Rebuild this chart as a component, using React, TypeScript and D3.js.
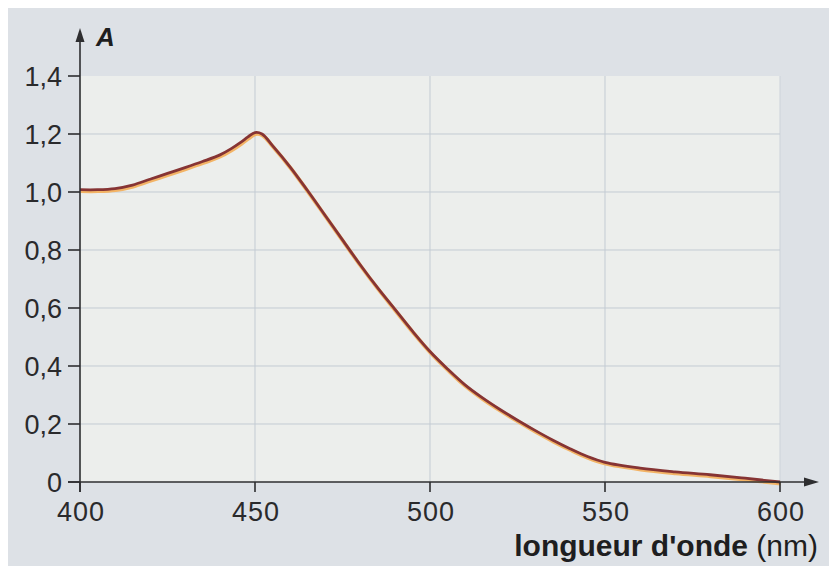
import React from "react";
import * as d3 from "d3";

const wavelengths = [400, 405, 410, 415, 420, 425, 430, 435, 440, 443, 446, 448, 450, 452, 455, 460, 465, 470, 475, 480, 485, 490, 495, 500, 505, 510, 515, 520, 525, 530, 535, 540, 545, 550, 560, 570, 580, 590, 600];
const absorbance = [1.008, 1.008, 1.012, 1.024, 1.044, 1.064, 1.084, 1.105, 1.128, 1.148, 1.172, 1.19, 1.205, 1.2, 1.16, 1.087, 1.005, 0.92, 0.835, 0.75, 0.67, 0.595, 0.52, 0.45, 0.39, 0.335, 0.29, 0.25, 0.213, 0.178, 0.145, 0.115, 0.088, 0.068, 0.048, 0.035, 0.025, 0.013, 0.0];
const xTicks = [400, 450, 500, 550, 600];
const yTicks = [0, 0.2, 0.4, 0.6, 0.8, 1.0, 1.2, 1.4];
const yTickLabels = ["0", "0,2", "0,4", "0,6", "0,8", "1,0", "1,2", "1,4"];
const xGrid = [450, 500, 550];
const yGrid = [0.2, 0.4, 0.6, 0.8, 1.0, 1.2];

export default function App() {
  const x = d3.scaleLinear().domain([400, 600]).range([80, 780]);
  const y = d3.scaleLinear().domain([0, 1.4]).range([482, 76]);
  const pts: [number, number][] = wavelengths.map((w, i) => [w, absorbance[i]]);
  const line = d3
    .line<[number, number]>()
    .x((d) => x(d[0]))
    .y((d) => y(d[1]))
    .curve(d3.curveCatmullRom.alpha(0.5));
  const path = line(pts) || "";
  const font = "'Liberation Sans', Arial, sans-serif";
  const axisColor = "#2e2e30";
  return (
    <svg width={829} height={558} style={{ display: "block" }}>
      <g transform="translate(-8,-8)">
        <rect x={8} y={8} width={829} height={558} fill="#dde1e6" />
        <rect x={x(400)} y={y(1.4)} width={x(600) - x(400)} height={y(0) - y(1.4)} fill="#eceeec" />
        {xGrid.map((v) => (
          <line key={"gx" + v} x1={x(v)} x2={x(v)} y1={y(1.4)} y2={y(0)} stroke="#c3cbd3" strokeWidth={1} />
        ))}
        <line x1={x(600)} x2={x(600)} y1={y(1.4)} y2={y(0)} stroke="#cdd3da" strokeWidth={1} />
        {yGrid.map((v) => (
          <line key={"gy" + v} x1={x(400)} x2={x(600)} y1={y(v)} y2={y(v)} stroke="#c3cbd3" strokeWidth={1} />
        ))}
        {/* curve */}
        <path d={path} fill="none" stroke="#f3b466" strokeWidth={3.8} transform="translate(0.7,1.5)" strokeLinejoin="round" />
        <path d={path} fill="none" stroke="#863434" strokeWidth={2.8} strokeLinejoin="round" />
        {/* axes */}
        <line x1={x(400)} x2={x(400)} y1={y(0) + 10} y2={40} stroke={axisColor} strokeWidth={1.6} />
        <path d={`M ${x(400)} 28 L ${x(400) - 4.5} 42 L ${x(400) + 4.5} 42 Z`} fill={axisColor} />
        <line x1={68} x2={806} y1={y(0)} y2={y(0)} stroke={axisColor} strokeWidth={1.6} />
        <path d={`M 819 ${y(0)} L 804 ${y(0) - 4.5} L 804 ${y(0) + 4.5} Z`} fill={axisColor} />
        {yTicks.map((v, i) => (
          <g key={"yt" + v}>
            <line x1={68} x2={x(400)} y1={y(v)} y2={y(v)} stroke={axisColor} strokeWidth={1.6} />
            <text x={62} y={y(v) + 10} textAnchor="end" fontFamily={font} fontSize={27} fill="#2a2a2c">
              {yTickLabels[i]}
            </text>
          </g>
        ))}
        {xTicks.map((v) => (
          <g key={"xt" + v}>
            <line x1={x(v)} x2={x(v)} y1={y(0)} y2={y(0) + 10} stroke={axisColor} strokeWidth={1.6} />
            <text x={x(v) + 1} y={521} textAnchor="middle" fontFamily={font} fontSize={27} letterSpacing={1} fill="#2a2a2c">
              {v}
            </text>
          </g>
        ))}
        <text x={96} y={46} fontFamily={font} fontSize={26} fontWeight="bold" fontStyle="italic" fill="#1e1e20">
          A
        </text>
        <text x={818} y={556} textAnchor="end" fontFamily={font} fontSize={30} fill="#1e1e20">
          <tspan fontWeight="bold">longueur d'onde</tspan>
          <tspan> (nm)</tspan>
        </text>
      </g>
    </svg>
  );
}
